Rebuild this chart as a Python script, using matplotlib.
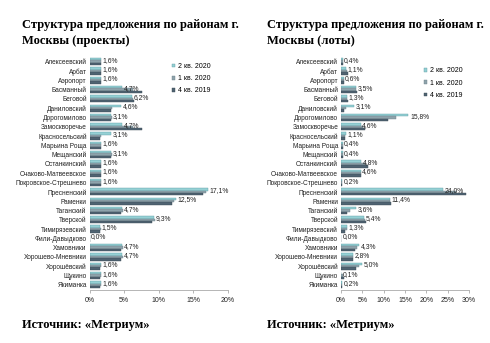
import matplotlib
matplotlib.use('Agg')
import matplotlib.pyplot as plt
from matplotlib.patches import Patch

districts = ['Алексеевский', 'Арбат', 'Аэропорт', 'Басманный', 'Беговой', 'Даниловский',
             'Дорогомилово', 'Замоскворечье', 'Красносельский', 'Марьина Роща', 'Мещанский',
             'Останкинский', 'Очаково-Матвеевское', 'Покровское-Стрешнево', 'Пресненский',
             'Раменки', 'Таганский', 'Тверской', 'Тимирязевский', 'Фили-Давыдково',
             'Хамовники', 'Хорошево-Мневники', 'Хорошёвский', 'Щукино', 'Якиманка']

series_names = ['2 кв. 2020', '1 кв. 2020', '4 кв. 2019']

proj_q2_2020 = [1.6, 1.6, 1.6, 4.7, 6.2, 4.6, 3.1, 4.7, 3.1, 1.6, 3.1, 1.6, 1.6, 1.6, 17.1, 12.5, 4.7, 9.3, 1.5, 0.0, 4.7, 4.7, 1.6, 1.6, 1.6]
proj_q1_2020 = [1.6, 1.6, 1.6, 6.3, 6.3, 3.2, 3.2, 6.3, 1.6, 1.6, 3.2, 1.6, 1.6, 1.6, 16.9, 12.3, 4.8, 9.5, 1.6, 0.0, 4.8, 4.8, 1.6, 1.6, 1.6]
proj_q4_2019 = [1.6, 1.6, 1.6, 7.6, 6.5, 3.1, 3.1, 7.6, 1.5, 1.6, 3.1, 1.6, 1.6, 1.6, 16.4, 12.0, 4.6, 9.1, 1.5, 0.0, 4.6, 4.6, 1.5, 1.5, 1.5]

lots_q2_2020 = [0.4, 1.1, 0.6, 3.5, 1.3, 3.1, 15.8, 4.6, 1.1, 0.4, 0.4, 4.8, 4.6, 0.2, 24.0, 11.4, 3.6, 5.4, 1.3, 0.0, 4.3, 2.8, 5.0, 0.1, 0.2]
lots_q1_2020 = [0.5, 1.4, 0.6, 3.6, 1.5, 1.2, 13.0, 5.2, 1.0, 0.4, 0.4, 5.6, 4.6, 0.2, 27.0, 11.6, 2.2, 5.6, 1.4, 0.0, 3.8, 2.9, 4.2, 0.4, 0.2]
lots_q4_2019 = [0.5, 1.6, 0.7, 3.7, 1.6, 0.6, 11.1, 5.6, 0.9, 0.4, 0.4, 6.3, 4.6, 0.2, 29.4, 11.7, 1.4, 5.8, 1.0, 0.0, 3.3, 2.9, 3.5, 0.6, 0.2]

proj_ticks = [0, 5, 10, 15, 20]
lots_ticks = [0, 5, 10, 15, 20, 25, 30]

colors = ['#95d0d4', '#8ea3ab', '#4f6371']
edge_colors = ['#5f9ea4', '#6d818a', '#3a4a55']

W, H = 490, 343
fig = plt.figure(figsize=(W / 100, H / 100), dpi=100)
fig.patch.set_facecolor('white')

sans = ['Liberation Sans', 'DejaVu Sans']
serif = ['Liberation Serif', 'DejaVu Serif']


def px_axes(x0, x1, top, bottom):
    return fig.add_axes([x0 / W, 1 - bottom / H, (x1 - x0) / W, (bottom - top) / H])


def draw_panel(ax, series, ticks, title, title_x, leg_x, leg_y):
    n = len(districts)
    ys = list(range(n))
    h = 0.26
    offs = [-h, 0.0, h]
    for vals, off, c, ec in zip(series, offs, colors, edge_colors):
        ax.barh([y + off for y in ys], vals, height=h, color=c, edgecolor=ec, linewidth=0.3)
    for y, v in zip(ys, series[0]):
        ax.text(v + ticks[-1] * 0.012, y - 0.15, f"{v:.1f}%".replace('.', ','),
                fontsize=4.9, va='center', ha='left', color='#222222', family=sans)
    ax.set_ylim(n - 0.5, -0.5)
    ax.set_xlim(0, ticks[-1])
    ax.set_yticks(ys)
    ax.set_yticklabels(districts, fontsize=4.7, family=sans, color='#222222')
    ax.set_xticks(ticks)
    ax.set_xticklabels([f"{t}%" for t in ticks], fontsize=5.0, family=sans, color='#222222')
    ax.tick_params(axis='y', length=0, pad=2)
    ax.tick_params(axis='x', length=2.5, width=0.5, color='#999999', pad=3)
    for s in ['top', 'right', 'left']:
        ax.spines[s].set_visible(False)
    ax.spines['bottom'].set_color('#aaaaaa')
    ax.spines['bottom'].set_linewidth(0.6)
    handles = [Patch(facecolor=c, edgecolor=ec, linewidth=0.3) for c, ec in zip(colors, edge_colors)]
    fig.legend(handles, series_names, loc='upper left',
               bbox_to_anchor=(leg_x / W, 1 - leg_y / H), frameon=False,
               prop={'family': sans, 'size': 5.0}, handlelength=0.45, handleheight=0.45,
               handletextpad=0.4, labelspacing=0.75, borderpad=0, borderaxespad=0)
    fig.text(title_x / W, 1 - 19 / H, title, fontsize=9, fontweight='bold',
             family=serif, va='top', ha='left', linespacing=1.45)
    fig.text(title_x / W, 1 - 325 / H, 'Источник: «Метриум»', fontsize=9,
             fontweight='bold', family=serif, va='center', ha='left')


ax1 = px_axes(89.5, 227.7, 57, 289.5)
draw_panel(ax1, [proj_q2_2020, proj_q1_2020, proj_q4_2019], proj_ticks,
           'Структура предложения по районам г.\nМосквы (проекты)', 22, 172, 63)

ax2 = px_axes(341, 469, 57, 289.5)
draw_panel(ax2, [lots_q2_2020, lots_q1_2020, lots_q4_2019], lots_ticks,
           'Структура предложения по районам г.\nМосквы (лоты)', 267, 424, 67.5)

fig.savefig('out.png', dpi=100, facecolor='white')
